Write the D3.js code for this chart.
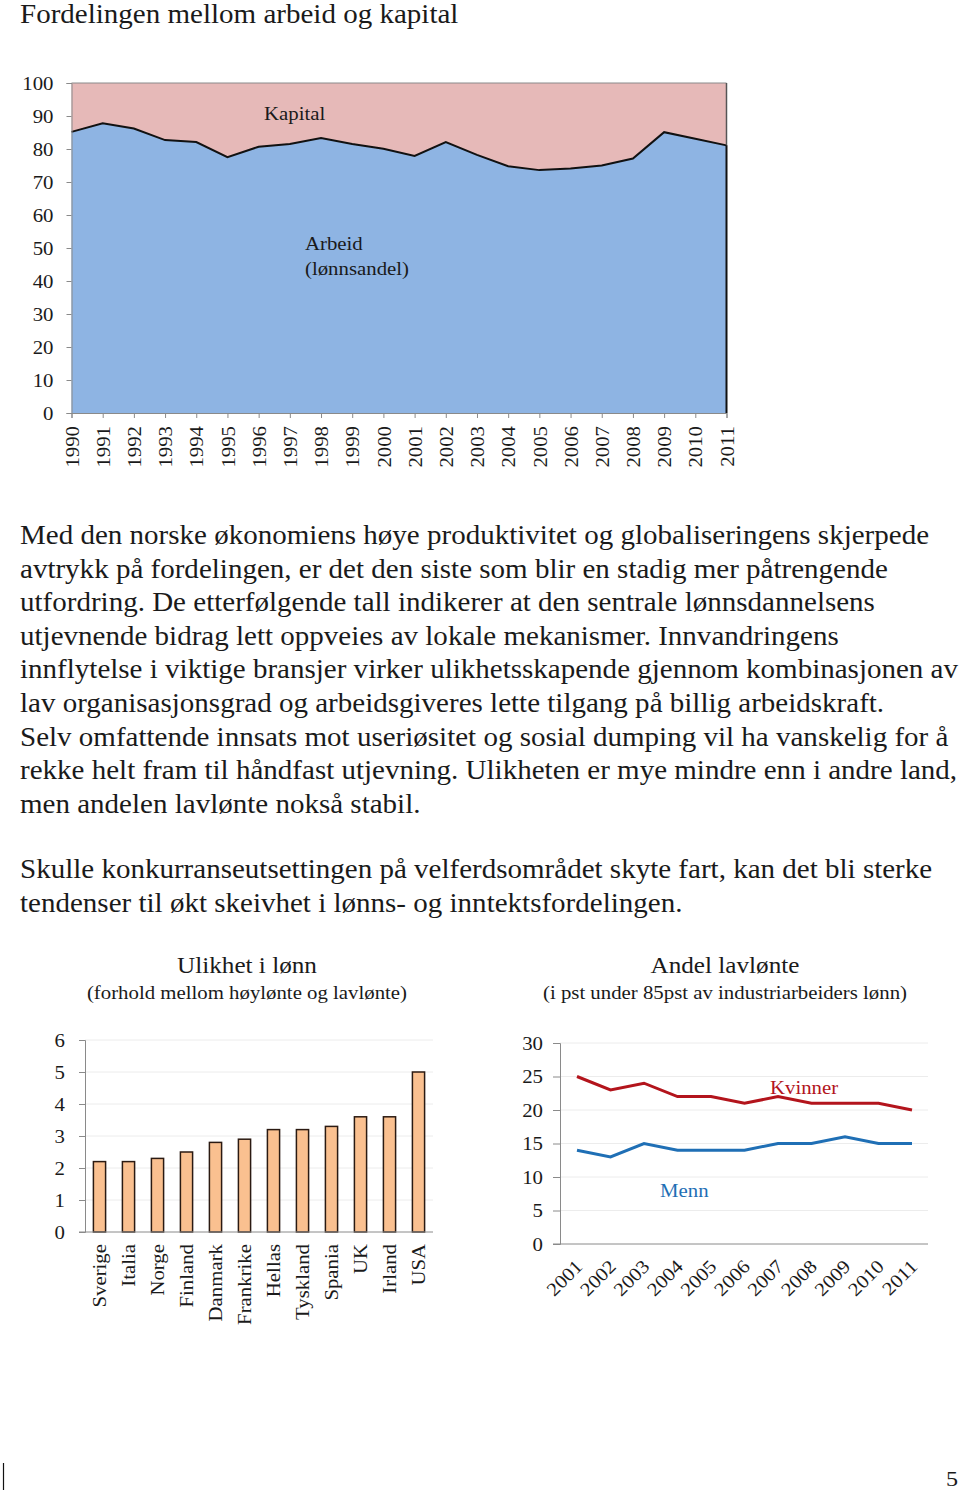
<!DOCTYPE html>
<html><head><meta charset="utf-8">
<script src="https://cdn.jsdelivr.net/npm/d3@7"></script>
<style>
body{margin:0;background:#fff;}
svg text{font-family:"Liberation Serif","Times New Roman",serif;}
</style></head>
<body>
<svg id="page" width="960" height="1494"></svg>
<script>
// ---- Data ----
const years1 = ["1990","1991","1992","1993","1994","1995","1996","1997","1998","1999","2000","2001","2002","2003","2004","2005","2006","2007","2008","2009","2010","2011"];
const arbeid = [85.2,87.8,86.2,82.7,82.1,77.5,80.7,81.5,83.3,81.5,80.1,77.9,82.1,78.2,74.8,73.6,74.1,75.0,77.1,85.1,83.1,81.1];
const yTicks1 = [0,10,20,30,40,50,60,70,80,90,100];

const countries = ["Sverige","Italia","Norge","Finland","Danmark","Frankrike","Hellas","Tyskland","Spania","UK","Irland","USA"];
const ulikhet = [2.2,2.2,2.3,2.5,2.8,2.9,3.2,3.2,3.3,3.6,3.6,5.0];
const yTicks2 = [0,1,2,3,4,5,6];

const years3 = ["2001","2002","2003","2004","2005","2006","2007","2008","2009","2010","2011"];
const kvinner = [25,23,24,22,22,21,22,21,21,21,20];
const menn = [14,13,15,14,14,14,15,15,16,15,15];
const yTicks3 = [0,5,10,15,20,25,30];

const paragraph1 = [
"Med den norske økonomiens høye produktivitet og globaliseringens skjerpede",
"avtrykk på fordelingen, er det den siste som blir en stadig mer påtrengende",
"utfordring. De etterfølgende tall indikerer at den sentrale lønnsdannelsens",
"utjevnende bidrag lett oppveies av lokale mekanismer. Innvandringens",
"innflytelse i viktige bransjer virker ulikhetsskapende gjennom kombinasjonen av",
"lav organisasjonsgrad og arbeidsgiveres lette tilgang på billig arbeidskraft.",
"Selv omfattende innsats mot useriøsitet og sosial dumping vil ha vanskelig for å",
"rekke helt fram til håndfast utjevning. Ulikheten er mye mindre enn i andre land,",
"men andelen lavlønte nokså stabil."
];
const paragraph2 = [
"Skulle konkurranseutsettingen på velferdsområdet skyte fart, kan det bli sterke",
"tendenser til økt skeivhet i lønns- og inntektsfordelingen."
];

const svg = d3.select("#page");
const txt = "#1a1a1a";
const fmt = d3.format("d");

// ---- Title ----
svg.append("text").attr("x",20).attr("y",23).attr("font-size",26.5).attr("fill",txt)
  .text("Fordelingen mellom arbeid og kapital");

// ---- Chart 1: stacked area ----
{
  const x = d3.scalePoint().domain(years1).range([71.5,726.5]);
  const y = d3.scaleLinear().domain([0,100]).range([413,83]);
  const g = svg.append("g");
  const data = years1.map((d,i)=>({year:d,v:arbeid[i]}));
  g.append("path").datum(data).attr("fill","#E6B9B8")
    .attr("d", d3.area().x(d=>x(d.year)).y0(y(100)).y1(d=>y(d.v)));
  g.append("path").datum(data).attr("fill","#8EB4E3")
    .attr("d", d3.area().x(d=>x(d.year)).y0(y(0)).y1(d=>y(d.v)));
  g.append("line").attr("x1",x(years1[0])).attr("x2",x(years1[years1.length-1]))
    .attr("y1",y(100)).attr("y2",y(100)).attr("stroke","#8a8a8a").attr("stroke-width",1);
  g.append("path").datum(data).attr("fill","none").attr("stroke","#111").attr("stroke-width",2)
    .attr("d", d3.line().x(d=>x(d.year)).y(d=>y(d.v)));
  g.append("line").attr("x1",x("2011")).attr("x2",x("2011"))
    .attr("y1",y(100)).attr("y2",y(arbeid[arbeid.length-1])).attr("stroke","#555").attr("stroke-width",1.5);
  g.append("line").attr("x1",x("2011")).attr("x2",x("2011"))
    .attr("y1",y(arbeid[arbeid.length-1])).attr("y2",y(0)).attr("stroke","#111").attr("stroke-width",2);

  const ya = g.append("g").attr("transform",`translate(${x(years1[0])},0)`)
    .call(d3.axisLeft(y).tickValues(yTicks1).tickFormat(fmt).tickSize(5).tickPadding(13));
  const xa = g.append("g").attr("transform",`translate(0,${y(0)})`)
    .call(d3.axisBottom(x).tickSize(5).tickPadding(8));
  [ya,xa].forEach(a=>{
    a.select(".domain").attr("stroke","#8a8a8a");
    a.selectAll(".tick line").attr("stroke","#8a8a8a");
    a.selectAll("text").attr("font-size",19).attr("fill",txt).attr("font-family","Liberation Serif, serif");
  });
  xa.selectAll(".tick text").attr("transform","rotate(-90)").attr("text-anchor","end")
    .attr("x",-13).attr("y",0).attr("dy","0.35em");

  g.append("text").attr("x",264).attr("y",120).attr("font-size",19).attr("fill",txt).text("Kapital");
  g.append("text").attr("x",305).attr("y",250).attr("font-size",19).attr("fill",txt).text("Arbeid");
  g.append("text").attr("x",305).attr("y",275).attr("font-size",19).attr("fill",txt).text("(lønnsandel)");
}

// ---- Paragraphs ----
paragraph1.forEach((l,i)=>{
  svg.append("text").attr("x",20).attr("y",544+i*33.6).attr("font-size",26.5).attr("fill",txt).text(l);
});
paragraph2.forEach((l,i)=>{
  svg.append("text").attr("x",20).attr("y",878+i*33.6).attr("font-size",26.5).attr("fill",txt).text(l);
});

// ---- Chart 2: bars ----
{
  const x = d3.scaleBand().domain(countries).range([85,433]).paddingInner(0.58).paddingOuter(0.29);
  const y = d3.scaleLinear().domain([0,6]).range([1232,1040]);
  const g = svg.append("g");
  g.append("text").attr("x",247).attr("y",973).attr("text-anchor","middle").attr("font-size",23).attr("fill",txt).text("Ulikhet i lønn");
  g.append("text").attr("x",247).attr("y",999).attr("text-anchor","middle").attr("font-size",19).attr("fill",txt).text("(forhold mellom høylønte og lavlønte)");
  g.selectAll(".grid").data(yTicks2.slice(1)).join("line")
    .attr("x1",85).attr("x2",433).attr("y1",d=>y(d)).attr("y2",d=>y(d)).attr("stroke","#ececec");
  g.selectAll(".bar").data(countries).join("rect")
    .attr("x",d=>x(d)).attr("width",x.bandwidth())
    .attr("y",(d,i)=>y(ulikhet[i])).attr("height",(d,i)=>y(0)-y(ulikhet[i]))
    .attr("fill","#FAC090").attr("stroke","#2b1a12").attr("stroke-width",1.5);
  const ya = g.append("g").attr("transform","translate(85,0)")
    .call(d3.axisLeft(y).tickValues(yTicks2).tickFormat(fmt).tickSize(6).tickPadding(14));
  ya.select(".domain").attr("stroke","#8a8a8a");
  ya.selectAll(".tick line").attr("stroke","#8a8a8a");
  ya.selectAll("text").attr("font-size",19).attr("fill",txt).attr("font-family","Liberation Serif, serif");
  g.append("line").attr("x1",79).attr("x2",433).attr("y1",y(0)).attr("y2",y(0)).attr("stroke","#8a8a8a");
  g.selectAll(".xl").data(countries).join("text")
    .attr("transform",d=>`translate(${x(d)+x.bandwidth()/2},1244) rotate(-90)`)
    .attr("text-anchor","end").attr("dy","0.35em").attr("font-size",19).attr("fill",txt).text(d=>d);
}

// ---- Chart 3: lines ----
{
  const x = d3.scalePoint().domain(years3).range([577,912]);
  const y = d3.scaleLinear().domain([0,30]).range([1244,1043]);
  const g = svg.append("g");
  g.append("text").attr("x",725).attr("y",973).attr("text-anchor","middle").attr("font-size",23).attr("fill",txt).text("Andel lavlønte");
  g.append("text").attr("x",725).attr("y",999).attr("text-anchor","middle").attr("font-size",19).attr("fill",txt).text("(i pst under 85pst av industriarbeiders lønn)");
  g.selectAll(".grid").data(yTicks3.slice(1)).join("line")
    .attr("x1",560).attr("x2",928).attr("y1",d=>y(d)).attr("y2",d=>y(d)).attr("stroke","#ececec");
  const ya = g.append("g").attr("transform","translate(560,0)")
    .call(d3.axisLeft(y).tickValues(yTicks3).tickFormat(fmt).tickSize(7).tickPadding(10));
  ya.select(".domain").attr("stroke","#8a8a8a");
  ya.selectAll(".tick line").attr("stroke","#8a8a8a");
  ya.selectAll("text").attr("font-size",19).attr("fill",txt).attr("font-family","Liberation Serif, serif");
  g.append("line").attr("x1",553).attr("x2",928).attr("y1",y(0)).attr("y2",y(0)).attr("stroke","#8a8a8a");
  const line = d3.line().x((d,i)=>x(years3[i])).y(d=>y(d));
  g.append("path").datum(kvinner).attr("fill","none").attr("stroke","#B3141C").attr("stroke-width",3).attr("d",line);
  g.append("path").datum(menn).attr("fill","none").attr("stroke","#1F6FB5").attr("stroke-width",3).attr("d",line);
  g.append("text").attr("x",770).attr("y",1094).attr("font-size",19).attr("fill","#B3141C").text("Kvinner");
  g.append("text").attr("x",660).attr("y",1197).attr("font-size",19).attr("fill","#1F6FB5").text("Menn");
  g.selectAll(".xl").data(years3).join("text")
    .attr("transform",d=>`translate(${x(d)+2},1263) rotate(-45)`)
    .attr("text-anchor","end").attr("dy","0.35em").attr("font-size",19).attr("fill",txt).text(d=>d);
}

// ---- Footer ----
svg.append("line").attr("x1",3.5).attr("x2",3.5).attr("y1",1463).attr("y2",1490).attr("stroke","#111").attr("stroke-width",1.2);
svg.append("text").attr("x",958).attr("y",1486).attr("text-anchor","end").attr("font-size",22).attr("fill",txt).text("5");

// widen glyphs slightly to match the reference's wider serif
svg.selectAll("text").each(function(){
  const len = this.getComputedTextLength();
  if (len > 0) d3.select(this).attr("textLength", len*1.095).attr("lengthAdjust","spacingAndGlyphs");
});
</script>
</body></html>
